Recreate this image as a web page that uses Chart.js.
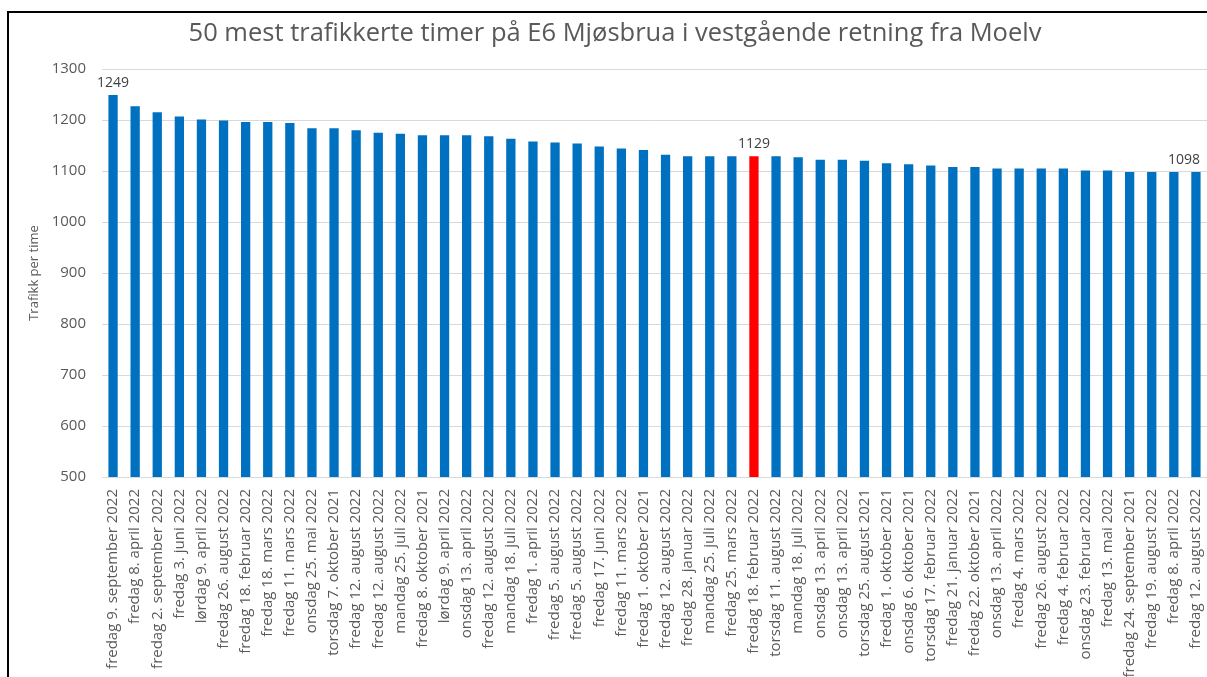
<!DOCTYPE html>
<html>
<head>
<meta charset="utf-8">
<title>E6 Mjøsbrua</title>
<script src="https://cdn.jsdelivr.net/npm/chart.js@4.4.0/dist/chart.umd.min.js"></script>
<style>
    html, body { margin: 0; padding: 0; overflow: hidden; background: #fff; }
    #frame { position: absolute; left: 7px; top: 11px; width: 1300px; height: 800px; border-left: 2px solid #000; border-top: 2px solid #000; }
    #wrap { position: absolute; left: 0; top: 0; width: 1207px; height: 677px; }
</style>
</head>
<body>
<div id="frame"></div>
<div id="wrap"><canvas id="chart"></canvas></div>
<script>
const title = '50 mest trafikkerte timer på E6 Mjøsbrua i vestgående retning fra Moelv';

const labels = [
    'fredag 9. september 2022', 'fredag 8. april 2022', 'fredag 2. september 2022', 'fredag 3. juni 2022',
    'lørdag 9. april 2022', 'fredag 26. august 2022', 'fredag 18. februar 2022', 'fredag 18. mars 2022',
    'fredag 11. mars 2022', 'onsdag 25. mai 2022', 'torsdag 7. oktober 2021', 'fredag 12. august 2022',
    'fredag 12. august 2022', 'mandag 25. juli 2022', 'fredag 8. oktober 2021', 'lørdag 9. april 2022',
    'onsdag 13. april 2022', 'fredag 12. august 2022', 'mandag 18. juli 2022', 'fredag 1. april 2022',
    'fredag 5. august 2022', 'fredag 5. august 2022', 'fredag 17. juni 2022', 'fredag 11. mars 2022',
    'fredag 1. oktober 2021', 'fredag 12. august 2022', 'fredag 28. januar 2022', 'mandag 25. juli 2022',
    'fredag 25. mars 2022', 'fredag 18. februar 2022', 'torsdag 11. august 2022', 'mandag 18. juli 2022',
    'onsdag 13. april 2022', 'onsdag 13. april 2022', 'torsdag 25. august 2021', 'fredag 1. oktober 2021',
    'onsdag 6. oktober 2021', 'torsdag 17. februar 2022', 'fredag 21. januar 2022', 'fredag 22. oktober 2021',
    'onsdag 13. april 2022', 'fredag 4. mars 2022', 'fredag 26. august 2022', 'fredag 4. februar 2022',
    'onsdag 23. februar 2022', 'fredag 13. mai 2022', 'fredag 24. september 2021', 'fredag 19. august 2022',
    'fredag 8. april 2022', 'fredag 12. august 2022'
];

const values = [
    1249, 1227, 1215, 1207, 1201, 1199, 1196, 1196, 1194, 1184,
    1184, 1180, 1175, 1173, 1170, 1170, 1170, 1168, 1163, 1158,
    1156, 1154, 1148, 1144, 1141, 1132, 1129, 1129, 1129, 1129,
    1129, 1127, 1122, 1122, 1120, 1115, 1113, 1111, 1108, 1108,
    1105, 1105, 1105, 1105, 1101, 1101, 1098, 1098, 1098, 1098
];

// hvilken søyle som er rød, og hvilke som får verdietikett
const highlight = 29;
const labelled = [0, 29, 49];

const yTicks = [500, 600, 700, 800, 900, 1000, 1100, 1200, 1300];

const BLUE = '#0070C0';
const RED = '#FF0000';
const TEXT = '#595959';

// tittel tegnes selv for å kunne plassere den litt til høyre for midten, som i Excel
const chartTitle = {
    id: 'chartTitle',
    afterDraw(chart) {
        const ctx = chart.ctx;
        ctx.save();
        ctx.font = '25.5px "Open Sans"';
        ctx.fillStyle = TEXT;
        ctx.textAlign = 'center';
        ctx.textBaseline = 'middle';
        ctx.fillText(title, 615, 34);
        ctx.restore();
    }
};

const valueLabels = {
    id: 'valueLabels',
    afterDatasetsDraw(chart) {
        const ctx = chart.ctx;
        const meta = chart.getDatasetMeta(0);
        ctx.save();
        ctx.font = '14px "Open Sans"';
        ctx.fillStyle = '#404040';
        ctx.textAlign = 'center';
        ctx.textBaseline = 'bottom';
        labelled.forEach(i => {
            const bar = meta.data[i];
            const txt = String(values[i]);
            const half = ctx.measureText(txt).width / 2;
            // hold etiketten innenfor kanten
            const x = Math.min(bar.x, chart.width - half - 7);
            ctx.fillText(txt, x, bar.y - 5);
        });
        ctx.restore();
    }
};

const ctx = document.getElementById('chart').getContext('2d');
new Chart(ctx, {
    type: 'bar',
    data: {
        labels: labels,
        datasets: [{
            data: values,
            backgroundColor: values.map((v, i) => i === highlight ? RED : BLUE),
            categoryPercentage: 1,
            barPercentage: 0.42
        }]
    },
    options: {
        responsive: true,
        maintainAspectRatio: false,
        animation: false,
        layout: { padding: { left: 0, right: 0, top: 69, bottom: 0 } },
        plugins: {
            legend: { display: false },
            tooltip: { enabled: false },
            title: { display: false }
        },
        scales: {
            y: {
                min: yTicks[0],
                max: yTicks[yTicks.length - 1],
                afterBuildTicks: (s) => { s.ticks = yTicks.map(v => ({ value: v })); },
                afterFit: (s) => { s.width = 102; },
                grid: { color: '#d9d9d9', drawTicks: false },
                border: { display: false },
                ticks: {
                    color: TEXT,
                    font: { family: 'Open Sans', size: 15 },
                    padding: 16,
                    callback: (v) => String(v)
                },
                title: {
                    display: true,
                    text: 'Trafikk per time',
                    color: TEXT,
                    font: { family: 'Open Sans', size: 13 },
                    padding: { top: 26, bottom: 0 }
                }
            },
            x: {
                afterFit: (s) => {
                    s.height = 200;
                    s.paddingLeft = 0;
                    s.paddingRight = 0;
                },
                grid: { display: false },
                border: { display: false },
                ticks: {
                    autoSkip: false,
                    maxRotation: 90,
                    minRotation: 90,
                    color: TEXT,
                    font: { family: 'Open Sans', size: 15 },
                    padding: 4
                }
            }
        }
    },
    plugins: [chartTitle, valueLabels]
});
</script>
</body>
</html>
